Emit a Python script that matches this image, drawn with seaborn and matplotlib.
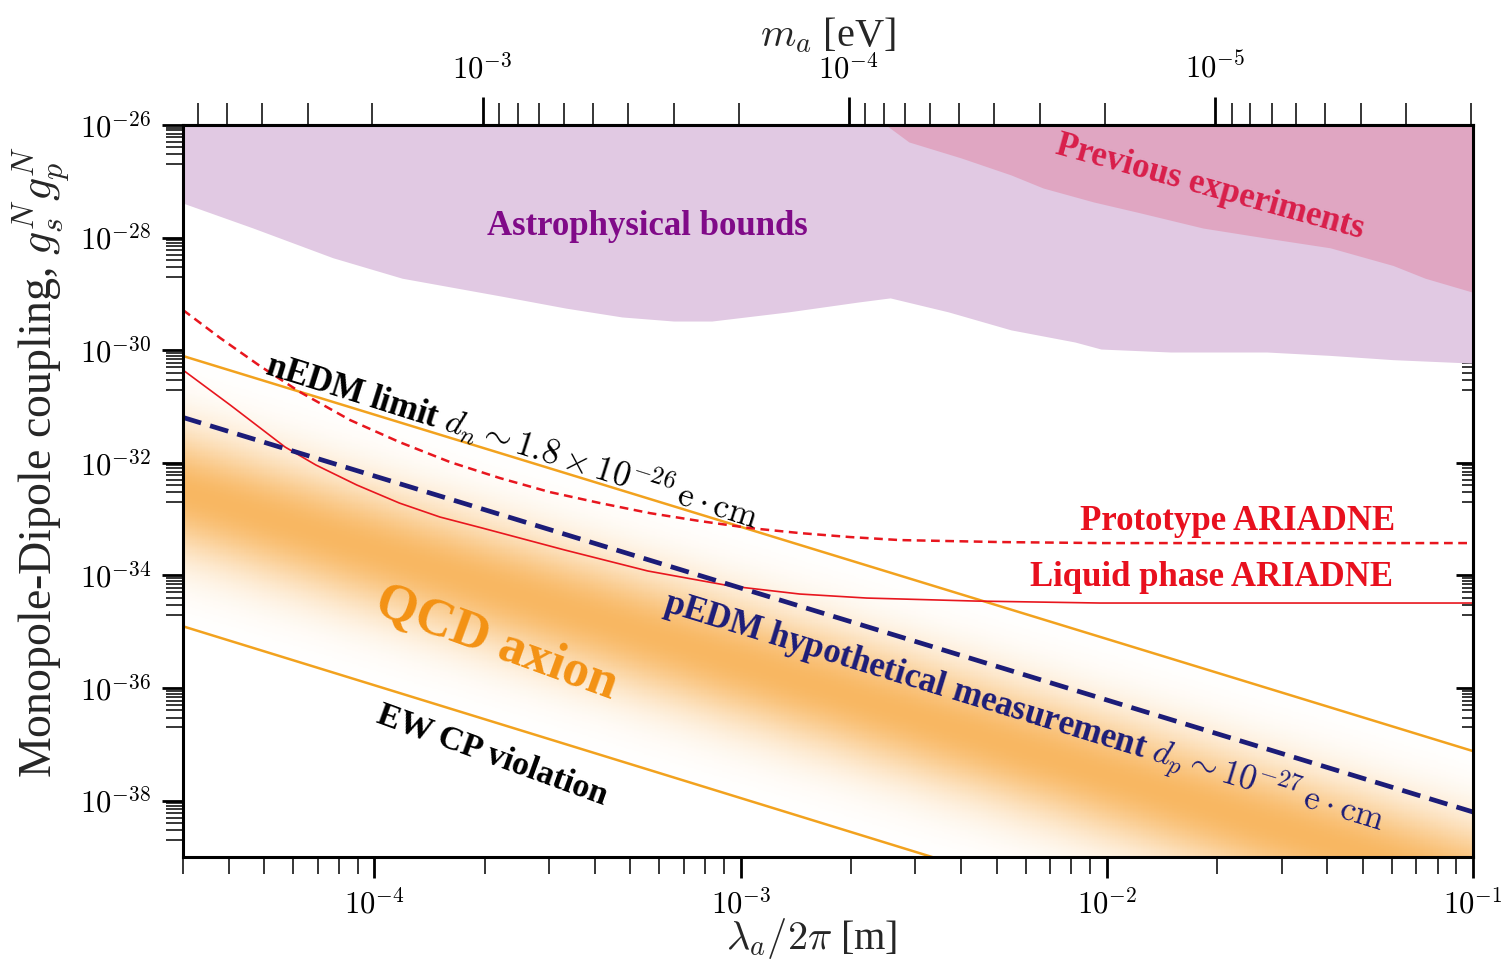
import numpy as np
import matplotlib
matplotlib.use('Agg')
import matplotlib.pyplot as plt
import seaborn as sns
from matplotlib.colors import LinearSegmentedColormap
from matplotlib.ticker import FixedLocator, NullFormatter, LogLocator, FuncFormatter

# x: lambda_a / 2pi [m], y: g_s^N g_p^N
HBARC = 1.9733e-7  # eV m

# QCD axion band edges and EDM lines (read at the two plot edges)
band_x = [3.0e-5, 1.0e-1]
nedm_y = [7.9e-31, 7.6e-38]     # nEDM limit, top of the band
ewcp_y = [1.25e-35, 1.1e-42]    # EW CP violation, bottom of the band
pedm_y = [6.4e-32, 6.3e-39]     # pEDM hypothetical measurement

# ARIADNE projections
proto_x = [3.0e-5, 3.79e-5, 4.87e-5, 6.26e-5, 8.58e-5, 1.17e-4, 1.61e-4, 2.20e-4, 3.01e-4,
           4.13e-4, 5.65e-4, 7.74e-4, 1.06e-3, 1.45e-3, 1.99e-3, 2.72e-3, 5.10e-3, 9.57e-3, 1.0e-1]
proto_y = [5.18e-30, 1.65e-30, 5.24e-31, 1.81e-31, 5.75e-32, 2.34e-32, 1.03e-32, 5.37e-33, 3.03e-33,
           1.93e-33, 1.28e-33, 9.25e-34, 6.95e-34, 5.66e-34, 4.81e-34, 4.25e-34, 3.92e-34, 3.76e-34, 3.76e-34]

liquid_x = [3.0e-5, 4.04e-5, 5.70e-5, 6.92e-5, 8.95e-5, 1.17e-4, 1.51e-4, 1.97e-4, 3.31e-4,
            5.58e-4, 9.41e-4, 1.45e-3, 2.21e-3, 4.39e-3, 9.57e-3, 1.0e-1]
liquid_y = [4.45e-31, 1.06e-31, 1.91e-32, 9.15e-33, 4.04e-33, 1.93e-33, 1.09e-33, 6.95e-34, 2.83e-34,
            1.20e-34, 6.48e-35, 4.68e-35, 3.97e-35, 3.51e-35, 3.24e-35, 3.24e-35]

# astrophysical bounds (lower edge)
astro_x = [3.0e-5, 4.66e-5, 7.69e-5, 1.19e-4, 2.23e-4, 3.33e-4, 4.74e-4, 6.56e-4, 8.34e-4,
           1.35e-3, 2.10e-3, 2.56e-3, 3.69e-3, 5.47e-3, 8.18e-3, 9.64e-3, 1.49e-2, 2.73e-2,
           4.07e-2, 6.05e-2, 1.0e-1]
astro_y = [4.1e-28, 1.48e-28, 4.4e-29, 1.9e-29, 9.1e-30, 5.6e-30, 3.9e-30, 3.3e-30, 3.3e-30,
           4.8e-30, 7.2e-30, 8.5e-30, 4.8e-30, 2.3e-30, 1.4e-30, 1.05e-30, 9.3e-31, 9.3e-31,
           8.1e-31, 6.8e-31, 5.9e-31]

# previous experiments (lower edge)
prev_x = [2.4e-3, 2.88e-3, 4.0e-3, 5.47e-3, 6.7e-3, 9.2e-3, 1.22e-2, 1.83e-2, 2.73e-2,
          4.07e-2, 6.05e-2, 7.4e-2, 1.0e-1]
prev_y = [1.2e-26, 5.0e-27, 2.6e-27, 1.3e-27, 7.6e-28, 4.3e-28, 2.8e-28, 1.48e-28, 9.8e-29,
          6.6e-29, 3.2e-29, 1.9e-29, 1.07e-29]

top_ticks = [1e-3, 1e-4, 1e-5]

sns.set_theme(style="white")
plt.rcParams['font.family'] = ['Liberation Serif', 'DejaVu Serif']
plt.rcParams['mathtext.fontset'] = 'cm'

fig = plt.figure(figsize=(15.01, 9.61), dpi=100)
ax = fig.add_axes([183 / 1501, 1 - 857 / 961, 1290 / 1501, 732 / 961])
ax.set_xscale('log')
ax.set_yscale('log')
ax.set_xlim(3.0e-5, 1.0e-1)
ax.set_ylim(1e-39, 1e-26)

# excluded regions
ax.fill_between(astro_x, astro_y, 1e-25, color='#e1c9e3', lw=0, zorder=1)
ax.fill_between(prev_x, prev_y, 1e-25, color='#e0a6c2', lw=0, zorder=1.1)

# QCD axion band with soft orange gradient
gx = np.logspace(np.log10(band_x[0]), np.log10(band_x[1]), 500)
gy = np.logspace(-43, -29, 700)
GX, GY = np.meshgrid(np.log10(gx), np.log10(gy))
top = np.interp(GX, np.log10(band_x), np.log10(nedm_y))
bot = np.interp(GX, np.log10(band_x), np.log10(ewcp_y))
t = (GY - bot) / (top - bot)
shade = np.exp(-((t - 0.5) / 0.23) ** 2)
shade = np.ma.masked_where((t < 0) | (t > 1), shade)
orange_cmap = LinearSegmentedColormap.from_list('qcd', ['#ffffff', '#f8b762'])
ax.pcolormesh(gx, gy, shade, cmap=orange_cmap, vmin=0, vmax=1, shading='auto',
              zorder=1.5, rasterized=True)

# lines
sns.lineplot(x=band_x, y=nedm_y, ax=ax, color='#f2a21e', lw=1.8, estimator=None, sort=False, zorder=3)
sns.lineplot(x=band_x, y=ewcp_y, ax=ax, color='#f2a21e', lw=1.8, estimator=None, sort=False, zorder=3)
sns.lineplot(x=proto_x, y=proto_y, ax=ax, color='#e8161e', lw=1.8, linestyle=(0, (3.5, 2.2)),
             estimator=None, sort=False, zorder=3)
sns.lineplot(x=liquid_x, y=liquid_y, ax=ax, color='#e8161e', lw=1.2, estimator=None, sort=False, zorder=3)
sns.lineplot(x=band_x, y=pedm_y, ax=ax, color='#1c1c78', lw=3.4, linestyle=(0, (4, 2)),
             estimator=None, sort=False, zorder=3.2)

# annotations
tf = ax.transAxes
ax.text(0.360, 0.861, 'Astrophysical bounds', transform=tf, color='#800a88', fontsize=25,
        fontweight='bold', ha='center', va='center', zorder=5)
ax.text(0.796, 0.914, 'Previous experiments', transform=tf, color='#d81e4a', fontsize=25,
        fontweight='bold', ha='center', va='center', rotation=-15.5, rotation_mode='anchor', zorder=5)
ax.text(0.255, 0.570, r'nEDM limit $d_n \sim 1.8 \times 10^{-26}\,\mathrm{e}\cdot\mathrm{cm}$',
        transform=tf, color='black', fontsize=25, fontweight='bold', ha='center', va='center',
        rotation=-17.5, rotation_mode='anchor', zorder=5)
ax.text(0.652, 0.198, r'pEDM hypothetical measurement $d_p \sim 10^{-27}\,\mathrm{e}\cdot\mathrm{cm}$',
        transform=tf, color='#1c1c78', fontsize=25, fontweight='bold', ha='center', va='center',
        rotation=-17, rotation_mode='anchor', zorder=5)
ax.text(0.243, 0.292, 'QCD axion', transform=tf, color='#f39214', fontsize=38, fontweight='bold',
        ha='center', va='center', rotation=-20, rotation_mode='anchor', zorder=5)
ax.text(0.240, 0.139, 'EW CP violation', transform=tf, color='black', fontsize=24.5, fontweight='bold',
        ha='center', va='center', rotation=-20, rotation_mode='anchor', zorder=5)
ax.text(0.9395, 0.459, 'Prototype ARIADNE', transform=tf, color='#e8101e', fontsize=25,
        fontweight='bold', ha='right', va='center', zorder=5)
ax.text(0.938, 0.3825, 'Liquid phase ARIADNE', transform=tf, color='#e8101e', fontsize=25,
        fontweight='bold', ha='right', va='center', zorder=5)

# axes styling
for s in ax.spines.values():
    s.set_linewidth(2.2)
    s.set_color('black')
    s.set_zorder(6)

exp_fmt = FuncFormatter(lambda v, p: r'$10^{%d}$' % round(np.log10(v)))
y_major = [10.0 ** e for e in range(-40, -24, 2)]
y_minor = [m * 10.0 ** e for e in range(-41, -24, 2) for m in range(2, 10)]
ax.yaxis.set_major_locator(FixedLocator(y_major))
ax.yaxis.set_minor_locator(FixedLocator(y_minor))
ax.yaxis.set_major_formatter(exp_fmt)
ax.yaxis.set_minor_formatter(NullFormatter())
ax.xaxis.set_major_locator(LogLocator(base=10, numticks=10))
ax.xaxis.set_minor_locator(LogLocator(base=10, subs=np.arange(2, 10), numticks=20))
ax.xaxis.set_major_formatter(exp_fmt)
ax.xaxis.set_minor_formatter(NullFormatter())
ax.tick_params(axis='both', which='major', direction='out', length=15, width=2.0,
               labelsize=22, colors='black', pad=8)
ax.tick_params(axis='both', which='minor', direction='out', length=12, width=1.1, colors='black')
ax.tick_params(top=False, right=False, bottom=True, left=True, which='both')

# right axis with inward ticks
rax = ax.secondary_yaxis('right')
rax.yaxis.set_major_locator(FixedLocator(y_major))
rax.yaxis.set_minor_locator(FixedLocator(y_minor))
rax.yaxis.set_major_formatter(NullFormatter())
rax.yaxis.set_minor_formatter(NullFormatter())
rax.tick_params(which='major', direction='in', length=12, width=2.0, colors='black')
rax.tick_params(which='minor', direction='in', length=8, width=1.1, colors='black')
rax.spines['right'].set_linewidth(2.2)

# top axis: axion mass
def to_mass(v):
    v = np.asarray(v, dtype=float)
    with np.errstate(divide='ignore'):
        return HBARC / v

tax = ax.secondary_xaxis('top', functions=(to_mass, to_mass))
tax.xaxis.set_major_locator(FixedLocator(top_ticks))
tax.xaxis.set_minor_locator(LogLocator(base=10, subs=np.arange(2, 10), numticks=20))
tax.xaxis.set_major_formatter(exp_fmt)
tax.xaxis.set_minor_formatter(NullFormatter())
tax.tick_params(which='major', direction='out', length=20, width=2.0, labelsize=22, pad=9, colors='black')
tax.tick_params(which='minor', direction='out', length=16, width=1.1, colors='black')
tax.spines['top'].set_linewidth(2.2)

ax.set_xlabel(r'$\lambda_a/2\pi$ [m]', fontsize=29)
ax.xaxis.set_label_coords((812 - 183) / 1290, (857 - 916) / 732)
ax.set_ylabel(r'Monopole-Dipole coupling, $g_s^N g_p^N$', fontsize=33)
ax.yaxis.set_label_coords((72 - 183) / 1290, (857 - 462) / 732)
fig.text(828 / 1501, 1 - 35 / 961, r'$m_a$ [eV]', fontsize=29, ha='center', va='center')

fig.savefig('out.png', dpi=100)
